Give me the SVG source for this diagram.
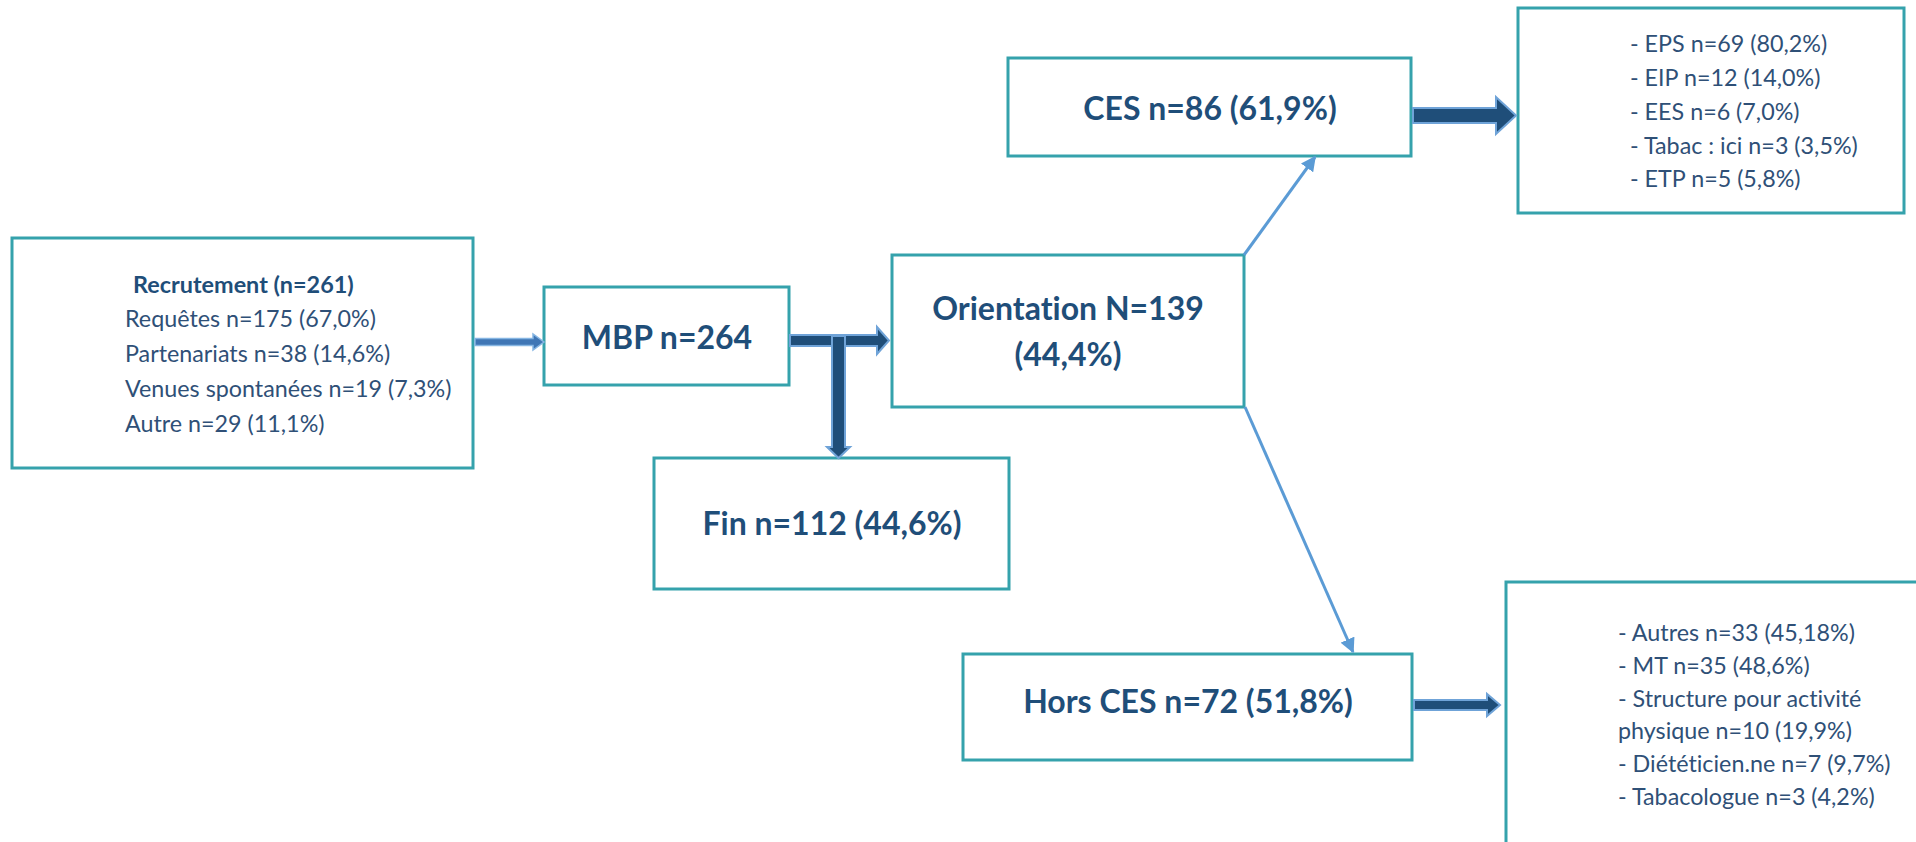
<svg xmlns="http://www.w3.org/2000/svg" width="1916" height="842" viewBox="0 0 1916 842">
<style>
  text { font-variant-ligatures: none; font-family: Lato, "Open Sans", sans-serif; }
  .box { fill: #ffffff; stroke: #35A2AC; stroke-width: 3; }
  .big { font-weight: bold; font-size: 32px; fill: #1F4E79; text-anchor: middle; }
  .sb { font-weight: bold; font-size: 23.4px; fill: #1F4E79; }
  .sm { font-size: 23.3px; fill: #2F5077; }
  .thin { fill: none; stroke: #5B9BD5; stroke-width: 3; marker-end: url(#ah); }
  .thick { fill: #1F4E79; stroke: #6FA3D8; stroke-width: 2; stroke-linejoin: miter; }
  .light { fill: #3F76B5; stroke: #86B6E3; stroke-width: 1.5; }
</style>
<defs>
  <marker id="ah" viewBox="0 0 10 10" refX="9" refY="5" markerWidth="5" markerHeight="5" orient="auto" markerUnits="strokeWidth">
    <path d="M0,0 L10,5 L0,10 Z" fill="#5B9BD5"/>
  </marker>
</defs>
<rect width="1916" height="842" fill="#ffffff"/>

<g id="recrutement">
  <rect class="box" x="12" y="238" width="461" height="230"/>
  <text class="sb" x="133" y="293">Recrutement (n=261)</text>
  <text class="sm" x="125" y="327">Requêtes n=175 (67,0%)</text>
  <text class="sm" x="125" y="362">Partenariats n=38 (14,6%)</text>
  <text class="sm" x="125" y="397">Venues spontanées n=19 (7,3%)</text>
  <text class="sm" x="125" y="432">Autre n=29 (11,1%)</text>
</g>

<g id="mbp">
  <rect class="box" x="544" y="287" width="245" height="98"/>
  <text class="big" x="667" y="349">MBP n=264</text>
</g>

<g id="fin">
  <rect class="box" x="654" y="458" width="355" height="131"/>
  <text class="big" x="832" y="535">Fin n=112 (44,6%)</text>
</g>

<g id="orientation">
  <rect class="box" x="892" y="255" width="352" height="152"/>
  <text class="big" x="1068" y="320">Orientation N=139</text>
  <text class="big" x="1068" y="366">(44,4%)</text>
</g>

<g id="ces">
  <rect class="box" x="1008" y="58" width="403" height="98"/>
  <text class="big" x="1210" y="120">CES n=86 (61,9%)</text>
</g>

<g id="hors-ces">
  <rect class="box" x="963" y="654" width="449" height="106"/>
  <text class="big" x="1188" y="713">Hors CES n=72 (51,8%)</text>
</g>

<g id="ces-detail">
  <rect class="box" x="1518" y="8" width="386" height="205"/>
  <text class="sm" x="1630" y="52">- EPS n=69 (80,2%)</text>
  <text class="sm" x="1630" y="86">- EIP n=12 (14,0%)</text>
  <text class="sm" x="1630" y="120">- EES n=6 (7,0%)</text>
  <text class="sm" x="1630" y="154">- Tabac : ici n=3 (3,5%)</text>
  <text class="sm" x="1630" y="187">- ETP n=5 (5,8%)</text>
</g>

<g id="hors-ces-detail">
  <rect class="box" x="1506" y="582" width="430" height="300"/>
  <text class="sm" x="1618" y="641">- Autres n=33 (45,18%)</text>
  <text class="sm" x="1618" y="674">- MT n=35 (48,6%)</text>
  <text class="sm" x="1618" y="707">- Structure pour activité</text>
  <text class="sm" x="1618" y="739">physique n=10 (19,9%)</text>
  <text class="sm" x="1618" y="772">- Diététicien.ne n=7 (9,7%)</text>
  <text class="sm" x="1618" y="805">- Tabacologue n=3 (4,2%)</text>
</g>

<g id="connectors">
  <polygon class="light" points="475,338.5 533,338.5 533,334 544,342 533,350 533,345.5 475,345.5"/>
  <polygon class="thick" points="790,335 877,335 877,327 889,340.5 877,354 877,346 790,346"/>
  <polygon class="thick" points="832,336 845,336 845,447 850,447 838.5,458 827,447 832,447"/>
  <polygon class="thick" points="1413,108 1496,108 1496,97 1516,115.5 1496,134 1496,123 1413,123"/>
  <polygon class="thick" points="1414,700 1487,700 1487,694 1500,705 1487,716 1487,710 1414,710"/>
  <line class="thin" x1="1244" y1="255" x2="1315" y2="157"/>
  <line class="thin" x1="1245" y1="407" x2="1353" y2="652"/>
</g>
</svg>
